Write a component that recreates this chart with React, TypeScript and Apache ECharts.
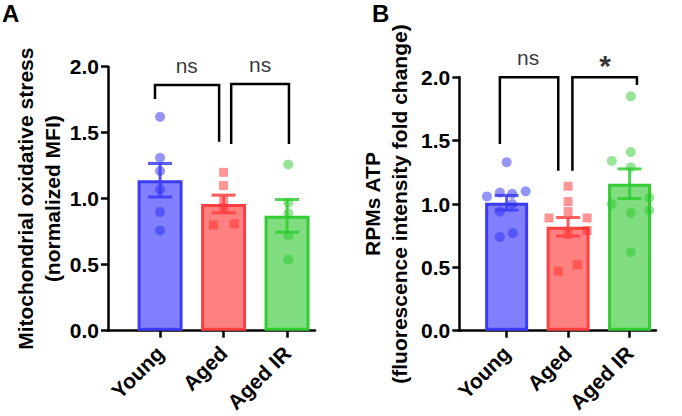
import React, { useEffect, useRef } from 'react';
import * as echarts from 'echarts';

// ---------- data ----------
const categories = ['Young', 'Aged', 'Aged IR'];
const yTicks = [0, 0.5, 1.0, 1.5, 2.0];

// Panel A: Mitochondrial oxidative stress (normalized MFI)
const aMeans = [1.14, 0.96, 0.87];
const aSems = [0.127, 0.067, 0.124];
const aYoung = [1.62, 1.31, 1.21, 1.07, 0.90, 0.76];
const aYoungJitter = [0, 0, 0, 0, 0, 0];
const aAged = [1.20, 1.10, 0.99, 0.93, 0.80, 0.81];
const aAgedJitter = [0, 0, 0, 0, -0.16, 0.17];
const aAgedIR = [1.26, 0.97, 0.89, 0.72, 0.54];
const aAgedIRJitter = [0.02, 0.02, 0.02, 0.02, 0.02];
const aBracket1 = [[-0.08, 1.755], [-0.08, 1.861], [0.93, 1.861], [0.93, 1.432]];
const aBracket2 = [[1.12, 1.414], [1.12, 1.869], [2.03, 1.869], [2.03, 1.414]];
const aSigLabels = [[0.42, 2.01, 'ns'], [1.575, 2.02, 'ns']];

// Panel B: RPMs ATP (fluorescence intensity fold change)
const bMeans = [1.01, 0.82, 1.16];
const bSems = [0.058, 0.073, 0.117];
const bYoung = [1.33, 1.06, 1.09, 1.08, 1.10, 0.94, 1.00, 0.74, 0.77];
const bYoungJitter = [0, -0.32, -0.11, 0.09, 0.31, -0.11, 0.09, -0.11, 0.1];
const bAged = [1.14, 1.02, 0.94, 0.89, 0.89, 0.79, 0.76, 0.47, 0.52];
const bAgedJitter = [0, 0, 0, -0.31, 0.31, 0.31, 0, -0.16, 0.15];
const bAgedIR = [1.85, 1.41, 1.34, 1.29, 1.05, 1.0, 0.93, 0.95, 0.62];
const bAgedIRJitter = [0.02, 0.02, -0.29, 0.02, 0.32, -0.29, 0.02, 0.32, 0.02];
const bBracket1 = [[-0.11, 1.474], [-0.11, 2.0], [0.84, 2.0], [0.84, 1.263]];
const bBracket2 = [[1.07, 1.263], [1.07, 2.0], [2.12, 2.0], [2.12, 1.94]];
const bSigLabels = [[0.35, 2.16, 'ns'], [1.6, 2.09, '*']];

// ---------- styles ----------
const FONT = 'Arial, "Liberation Sans", Helvetica, sans-serif';
const barFill = ['#8080ff', '#ff8080', '#80dd80'];
const barBorder = ['#3c3cf5', '#ff4040', '#33cc33'];
const pointColor = ['rgba(40,40,240,0.62)', 'rgba(255,40,40,0.62)', 'rgba(40,200,40,0.6)'];
const pointSymbol = ['circle', 'rect', 'circle'];

function makeAxes(gridIndex: number, xmin: number, xmax: number, yName: string, nameGap: number) {
  const xAxis = {
    type: 'value',
    gridIndex,
    min: xmin,
    max: xmax,
    splitLine: { show: false },
    axisLine: { show: true, onZero: false, lineStyle: { color: '#000', width: 2.5 } },
    axisTick: { show: true, customValues: [0, 1, 2], length: 7, lineStyle: { color: '#000', width: 2.5 } },
    axisLabel: {
      customValues: [0, 1, 2],
      rotate: 45,
      margin: 19,
      formatter: (v: number) => categories[Math.round(v)] ?? '',
      color: '#000',
      fontFamily: FONT,
      fontWeight: 'bold',
      fontSize: 21,
    },
  };
  const yAxis = {
    type: 'value',
    gridIndex,
    min: yTicks[0],
    max: yTicks[yTicks.length - 1],
    interval: 0.5,
    splitLine: { show: false },
    axisLine: { show: true, onZero: false, lineStyle: { color: '#000', width: 2.5 } },
    axisTick: { show: true, length: 7, lineStyle: { color: '#000', width: 2.5 } },
    axisLabel: {
      formatter: (v: number) => v.toFixed(1),
      margin: 9,
      color: '#000',
      fontFamily: FONT,
      fontWeight: 'bold',
      fontSize: 21,
    },
    name: yName,
    nameLocation: 'middle',
    nameRotate: 90,
    nameGap,
    nameTextStyle: {
      color: '#000',
      fontFamily: FONT,
      fontWeight: 'bold',
      fontSize: 21,
      lineHeight: 27,
      align: 'center',
    },
  };
  return { xAxis, yAxis };
}

function makeSeries(
  idx: number,
  means: number[],
  sems: number[],
  groups: number[][],
  jitters: number[][],
  brackets: number[][][],
  sigLabels: (number | string)[][],
  barWidth: number
) {
  const series: any[] = [];
  series.push({
    type: 'bar',
    xAxisIndex: idx,
    yAxisIndex: idx,
    barWidth,
    z: 2,
    data: means.map((m, i) => ({
      value: [i, m],
      itemStyle: { color: barFill[i], borderColor: barBorder[i], borderWidth: 3 },
    })),
  });
  groups.forEach((vals, g) => {
    series.push({
      type: 'scatter',
      xAxisIndex: idx,
      yAxisIndex: idx,
      symbol: pointSymbol[g],
      symbolSize: g === 1 ? 9 : 10,
      z: 3,
      itemStyle: { color: pointColor[g] },
      data: vals.map((v, k) => [g + jitters[g][k], v]),
    });
  });
  series.push({
    type: 'custom',
    xAxisIndex: idx,
    yAxisIndex: idx,
    z: 4,
    data: means.map((m, i) => [i, m, sems[i]]),
    renderItem: (params: any, api: any) => {
      const x = api.value(0);
      const m = api.value(1);
      const s = api.value(2);
      const top = api.coord([x, m + s]);
      const bot = api.coord([x, m - s]);
      const hw = 12;
      const color = barBorder[params.dataIndex];
      const st = { stroke: color, lineWidth: 3, opacity: 0.85 };
      return {
        type: 'group',
        children: [
          { type: 'line', shape: { x1: top[0], y1: top[1], x2: bot[0], y2: bot[1] }, style: st },
          { type: 'line', shape: { x1: top[0] - hw, y1: top[1], x2: top[0] + hw, y2: top[1] }, style: st },
          { type: 'line', shape: { x1: bot[0] - hw, y1: bot[1], x2: bot[0] + hw, y2: bot[1] }, style: st },
        ],
      };
    },
  });
  brackets.forEach((b) => {
    series.push({
      type: 'line',
      xAxisIndex: idx,
      yAxisIndex: idx,
      clip: false,
      symbol: 'none',
      z: 5,
      lineStyle: { color: '#000', width: 2.5, join: 'miter' },
      data: b,
    });
  });
  series.push({
    type: 'scatter',
    xAxisIndex: idx,
    yAxisIndex: idx,
    clip: false,
    symbol: 'circle',
    symbolSize: 1,
    z: 5,
    itemStyle: { color: 'rgba(0,0,0,0)' },
    label: {
      show: true,
      position: 'inside',
      formatter: (p: any) => p.value[2],
      color: '#000',
      fontFamily: FONT,
      fontSize: 20,
    },
    data: sigLabels.map((s) => ({
      value: s,
      label: s[2] === '*' ? { fontSize: 30, fontWeight: 'bold' } : { fontSize: 21, fontWeight: 'normal' },
    })),
  });
  return series;
}

export default function App() {
  const ref = useRef<HTMLDivElement>(null);
  useEffect(() => {
    if (!ref.current) return;
    const chart = echarts.init(ref.current, undefined, { renderer: 'svg' });
    const A = makeAxes(0, -0.82, 2.44, 'Mitochondrial oxidative stress\n(normalized MFI)', 37);
    const B = makeAxes(1, -0.77, 2.43, 'RPMs ATP\n(fluorescence intensity fold change)', 46);
    const option = {
      animation: false,
      backgroundColor: '#fff',
      grid: [
        { left: 108, top: 66.7, width: 207, height: 264 },
        { left: 459.3, top: 77.3, width: 196.7, height: 253.4 },
      ],
      xAxis: [A.xAxis, B.xAxis],
      yAxis: [A.yAxis, B.yAxis],
      graphic: [
        { type: 'text', left: 2, top: 1, style: { text: 'A', font: `bold 24px ${FONT}`, fill: '#000' } },
        { type: 'text', left: 372, top: 1, style: { text: 'B', font: `bold 24px ${FONT}`, fill: '#000' } },
      ],
      series: [
        ...makeSeries(0, aMeans, aSems, [aYoung, aAged, aAgedIR], [aYoungJitter, aAgedJitter, aAgedIRJitter], [aBracket1, aBracket2], aSigLabels, 45),
        ...makeSeries(1, bMeans, bSems, [bYoung, bAged, bAgedIR], [bYoungJitter, bAgedJitter, bAgedIRJitter], [bBracket1, bBracket2], bSigLabels, 43),
      ],
    };
    chart.setOption(option as any);
    return () => chart.dispose();
  }, []);
  return (
    <div
      ref={ref}
      style={{ position: 'fixed', left: 0, top: 0, width: 682, height: 416, background: '#fff' }}
    />
  );
}
